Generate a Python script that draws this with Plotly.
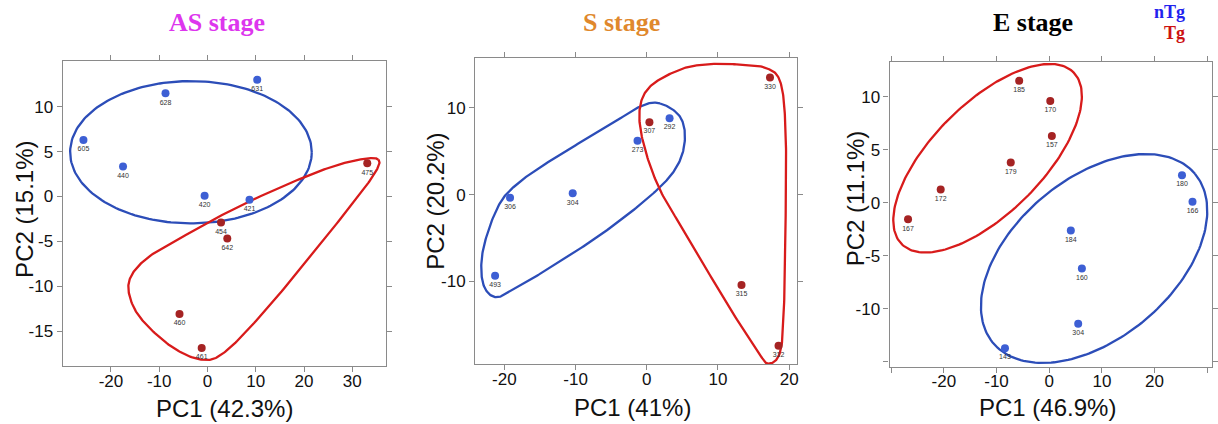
import numpy as np
import plotly.graph_objects as go

W, H = 1218, 424

# ---------------- data ----------------
# AS stage
as_ntg_ids = ["631", "628", "605", "440", "420", "421"]
as_ntg_x = [10.3, -8.7, -25.7, -17.5, -0.6, 8.7]
as_ntg_y = [13.0, 11.5, 6.3, 3.35, 0.08, -0.37]
as_tg_ids = ["475", "454", "642", "460", "461"]
as_tg_x = [33.1, 2.8, 4.1, -5.8, -1.2]
as_tg_y = [3.7, -2.9, -4.7, -13.1, -16.9]

# S stage
s_ntg_ids = ["292", "273", "306", "304", "493"]
s_ntg_x = [3.2, -1.3, -19.2, -10.4, -21.3]
s_ntg_y = [8.8, 6.2, -0.35, 0.15, -9.35]
s_tg_ids = ["330", "307", "315", "312"]
s_tg_x = [17.3, 0.37, 13.3, 18.5]
s_tg_y = [13.5, 8.35, -10.4, -17.4]

# E stage
e_ntg_ids = ["180", "166", "184", "160", "304", "143"]
e_ntg_x = [25.2, 27.2, 4.1, 6.2, 5.5, -8.4]
e_ntg_y = [2.6, 0.1, -2.6, -6.2, -11.4, -13.7]
e_tg_ids = ["185", "170", "157", "179", "172", "167"]
e_tg_x = [-5.7, 0.2, 0.5, -7.3, -20.6, -26.8]
e_tg_y = [11.5, 9.6, 6.3, 3.8, 1.26, -1.56]

# group outlines (data units)
as_ntg_ell = {"c": (-3.43, 4.93), "u": (25.03, 0.0), "v": (0.0, 7.93)}
e_tg_ell = {"c": (-11.7, 4.2), "u": (16.3, 8.1), "v": (7.4, -3.66)}
e_ntg_ell = {"c": (8.52, -5.25), "u": (19.15, 7.98), "v": (9.74, -5.77)}

as_tg_hull_x = [35.4, 32.6, 25.7, 15.4, 5.1, -4.5, -12.1, -15.9, -16.1, -13.5, -7.3, -1.1, 3.7, 12.0, 22.3, 31.2, 35.0]
as_tg_hull_y = [4.1, 4.2, 3.3, 1.1, -1.5, -4.3, -6.7, -8.95, -11.2, -13.8, -16.8, -18.2, -17.3, -12.7, -6.0, 0.0, 2.9]

s_ntg_hull_x = [1.86, 4.65, 5.35, 4.2, 0.93, -5.6, -12.6, -18.1, -21.2, -23.0, -23.0, -20.9, -18.1, -12.6, -5.6, -0.93]
s_ntg_hull_y = [10.5, 9.0, 6.3, 3.2, 0.16, -4.1, -7.9, -10.6, -11.8, -10.2, -6.4, -1.4, 1.3, 4.4, 7.8, 10.15]

s_tg_hull_x = [12.6, 16.7, 18.8, 19.5, 19.5, 19.3, 18.8, 17.2, 15.6, 10.7, 6.0, 1.86, -0.47, -1.0, 0.47, 4.65, 8.4]
s_tg_hull_y = [15.0, 14.6, 12.85, 7.1, -2.5, -12.1, -17.9, -19.45, -18.1, -11.8, -5.2, 0.54, 5.9, 9.8, 12.45, 14.4, 15.0]

titles = ["AS stage", "S stage", "E stage"]
x_titles = ["PC1 (42.3%)", "PC1 (41%)", "PC1 (46.9%)"]
y_titles = ["PC2 (15.1%)", "PC2 (20.2%)", "PC2 (11.1%)"]

# ---------------- style ----------------
BLUE_PT = "#3d5fd4"
RED_PT = "#a52323"
BLUE_LN = "#2c4db8"
RED_LN = "#d81b1b"
AXCOL = "#8a8a8a"


def ellipse(e, n=200):
    t = np.linspace(0, 2 * np.pi, n)
    cx, cy = e["c"]
    ux, uy = e["u"]
    vx, vy = e["v"]
    return cx + np.cos(t) * ux + np.sin(t) * vx, cy + np.cos(t) * uy + np.sin(t) * vy


def closed_spline(xs, ys, n=24):
    P = np.column_stack([xs, ys]).astype(float)
    N = len(P)
    t = np.linspace(0, 1, n, endpoint=False)[:, None]
    segs = []
    for i in range(N):
        p0, p1, p2, p3 = P[(i - 1) % N], P[i], P[(i + 1) % N], P[(i + 2) % N]
        segs.append(0.5 * (2 * p1 + (-p0 + p2) * t + (2 * p0 - 5 * p1 + 4 * p2 - p3) * t ** 2
                           + (-p0 + 3 * p1 - 3 * p2 + p3) * t ** 3))
    pts = np.vstack(segs + [P[:1]])
    return pts[:, 0], pts[:, 1]


fig = go.Figure()


def add_outline(x, y, color, k):
    fig.add_trace(go.Scatter(x=x, y=y, mode="lines", line=dict(color=color, width=2.3),
                             xaxis=f"x{k}", yaxis=f"y{k}", hoverinfo="skip", showlegend=False))


def add_points(x, y, ids, color, k):
    fig.add_trace(go.Scatter(x=x, y=y, mode="markers+text", text=ids, textposition="bottom center",
                             textfont=dict(size=7, color="#333333", family="Liberation Sans, Arial"),
                             marker=dict(size=8, color=color), xaxis=f"x{k}", yaxis=f"y{k}",
                             showlegend=False))


# panel 1
ex, ey = ellipse(as_ntg_ell)
add_outline(ex, ey, BLUE_LN, 1)
hx, hy = closed_spline(as_tg_hull_x, as_tg_hull_y)
add_outline(hx, hy, RED_LN, 1)
add_points(as_ntg_x, as_ntg_y, as_ntg_ids, BLUE_PT, 1)
add_points(as_tg_x, as_tg_y, as_tg_ids, RED_PT, 1)

# panel 2
hx, hy = closed_spline(s_ntg_hull_x, s_ntg_hull_y)
add_outline(hx, hy, BLUE_LN, 2)
hx, hy = closed_spline(s_tg_hull_x, s_tg_hull_y)
add_outline(hx, hy, RED_LN, 2)
add_points(s_ntg_x, s_ntg_y, s_ntg_ids, BLUE_PT, 2)
add_points(s_tg_x, s_tg_y, s_tg_ids, RED_PT, 2)

# panel 3
ex, ey = ellipse(e_tg_ell)
add_outline(ex, ey, RED_LN, 3)
ex, ey = ellipse(e_ntg_ell)
add_outline(ex, ey, BLUE_LN, 3)
add_points(e_ntg_x, e_ntg_y, e_ntg_ids, BLUE_PT, 3)
add_points(e_tg_x, e_tg_y, e_tg_ids, RED_PT, 3)


def ax(domain, rng, tickvals, ticktext, anchor, standoff):
    return dict(domain=domain, range=rng, tickvals=tickvals, ticktext=ticktext, anchor=anchor,
                showline=True, linecolor=AXCOL, linewidth=1.2, mirror="ticks", ticks="outside",
                ticklen=5, tickwidth=1, tickcolor=AXCOL, showgrid=False, zeroline=False,
                ticklabelstandoff=standoff,
                tickfont=dict(size=17, color="#111111", family="Liberation Sans, Arial"))


def dom_x(a, b):
    return [a / W, b / W]


def dom_y(top, bot):
    return [1 - bot / H, 1 - top / H]


x1t = [-20, -10, 0, 10, 20, 30]
y1t = [10, 5, 0, -5, -10, -15]
x2t = [-20, -10, 0, 10, 20]
y2t = [10, 0, -10]
x3t = [-30, -20, -10, 0, 10, 20, 30]
y3t = [10, 5, 0, -5, -10, -15]

fig.update_layout(
    width=W, height=H, margin=dict(l=0, r=0, t=0, b=0),
    paper_bgcolor="white", plot_bgcolor="white",
    xaxis=ax(dom_x(63, 388), [-30.0, 37.0], x1t, [str(v) for v in x1t], "y", -6),
    yaxis=ax(dom_y(61, 366), [-18.9, 15.1], y1t, [str(v) for v in y1t], "x", 0),
    xaxis2=ax(dom_x(477.5, 801), [-24.1, 21.1], x2t, [str(v) for v in x2t], "y2", -6),
    yaxis2=ax(dom_y(58.3, 364), [-19.5, 15.7], y2t, [str(v) for v in y2t], "x2", 0),
    xaxis3=ax(dom_x(894, 1218), [-30.3, 30.9], x3t, [""] + [str(v) for v in x3t[1:-1]] + [""], "y3", -6),
    yaxis3=ax(dom_y(61.7, 366.7), [-15.45, 13.3], y3t, [str(v) for v in y3t[:-1]] + [""], "x3", 0),
)

ann = []
SERIF = "Liberation Serif, Times New Roman, serif"
SANS = "Liberation Sans, Arial, sans-serif"
for txt, cx, col in zip(titles, [218, 625, 1038], ["#dd36ee", "#e0882c", "#000000"]):
    ann.append(dict(text=f"<b>{txt}</b>", x=cx / W, y=1 - 23 / H, xref="paper", yref="paper",
                    showarrow=False, font=dict(size=26, color=col, family=SERIF),
                    xanchor="center", yanchor="middle"))
ann.append(dict(text="<b>nTg</b>", x=1193 / W, y=1 - 12 / H, xref="paper", yref="paper", showarrow=False,
                font=dict(size=18, color="#2222ee", family=SERIF), xanchor="right", yanchor="middle"))
ann.append(dict(text="<b>Tg</b>", x=1193 / W, y=1 - 33 / H, xref="paper", yref="paper", showarrow=False,
                font=dict(size=18, color="#cc1111", family=SERIF), xanchor="right", yanchor="middle"))
for txt, cx, cy in zip(x_titles, [226, 636, 1053], [408, 407, 407.5]):
    ann.append(dict(text=txt, x=cx / W, y=1 - cy / H, xref="paper", yref="paper", showarrow=False,
                    font=dict(size=24, color="#111111", family=SANS), xanchor="center", yanchor="middle"))
for txt, cx, cy in zip(y_titles, [24, 437, 860], [209, 201, 198.5]):
    ann.append(dict(text=txt, x=cx / W, y=1 - cy / H, xref="paper", yref="paper", showarrow=False,
                    textangle=-90, font=dict(size=24, color="#111111", family=SANS),
                    xanchor="center", yanchor="middle"))
fig.update_layout(annotations=ann)

fig.write_html("out.html")
